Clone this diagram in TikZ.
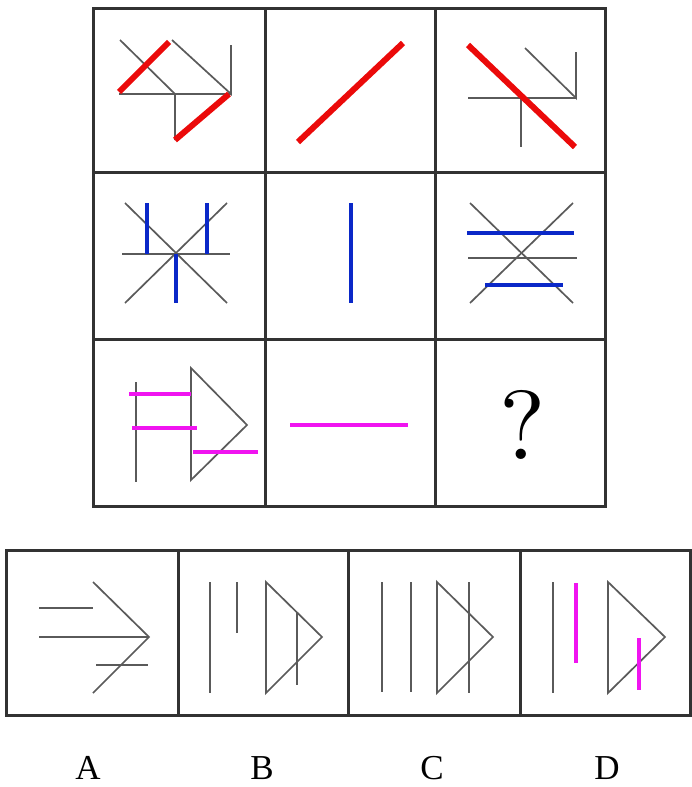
\documentclass[tikz,border=0pt]{standalone}
\usepackage{fontspec}
\setmainfont{Liberation Serif}
\newfontfamily\qfont{lmroman10-regular.otf}

\definecolor{framegray}{RGB}{50,50,50}
\definecolor{linegray}{RGB}{90,90,90}
\definecolor{barred}{RGB}{235,10,10}
\definecolor{barblue}{RGB}{10,40,200}
\definecolor{barpink}{RGB}{240,20,240}

\tikzset{
  frame/.style={draw=framegray, line width=3pt},
  stroke/.style={draw=linegray, line width=1.7pt},
  redbar/.style={draw=barred, line width=6pt},
  bluebar/.style={draw=barblue, line width=4.8pt},
  pinkbar/.style={draw=barpink, line width=4.8pt},
  letter/.style={font=\fontsize{35}{35}\selectfont, inner sep=0pt}
}

\begin{document}
\begin{tikzpicture}[x=1pt, y=-1pt]

    \useasboundingbox (0,0) rectangle (691,787);

    % 1. Khung ba hang ba cot
    \draw[frame] (93,8) rectangle (605,506);
    \foreach \x in {265,435} \draw[frame] (\x,8) -- (\x,506);
    \foreach \y in {172,339} \draw[frame] (93,\y) -- (605,\y);

    % 2. Hang 1 (do)
    \draw[stroke] (120,40) -- (175,94) -- (175,140);
    \draw[stroke] (119,94) -- (231,94);
    \draw[stroke] (172,40) -- (231,94) -- (231,45);
    \draw[redbar] (119,92) -- (169,42);
    \draw[redbar] (175,140) -- (229,94);

    \draw[redbar] (298,142) -- (403,43);

    \draw[stroke] (525,48) -- (576,98) -- (576,52);
    \draw[stroke] (468,98) -- (576,98);
    \draw[stroke] (521,98) -- (521,147);
    \draw[redbar] (468,45) -- (575,147);

    % 3. Hang 2 (xanh)
    \draw[stroke] (125,203) -- (227,303);
    \draw[stroke] (125,303) -- (227,203);
    \draw[stroke] (122,254) -- (230,254);
    \draw[bluebar] (147,203) -- (147,254);
    \draw[bluebar] (207,203) -- (207,254);
    \draw[bluebar] (176,254) -- (176,303);

    \draw[bluebar] (351,203) -- (351,303);

    \draw[stroke] (470,203) -- (573,303);
    \draw[stroke] (470,303) -- (573,203);
    \draw[stroke] (468,258) -- (577,258);
    \draw[bluebar] (467,233) -- (574,233);
    \draw[bluebar] (485,285) -- (563,285);

    % 4. Hang 3 (hong)
    \draw[stroke] (136,382) -- (136,482);
    \draw[stroke] (191,368) -- (247,425) -- (191,480) -- cycle;
    \draw[pinkbar] (129,394) -- (191,394);
    \draw[pinkbar] (132,428) -- (197,428);
    \draw[pinkbar] (193,452) -- (258,452);

    \draw[pinkbar] (290,425) -- (408,425);

    \node[font=\qfont\fontsize{98}{98}\selectfont, inner sep=0pt] (q) at (523,425) {?};

    % 5. Cac phuong an
    \draw[frame] (6,550) rectangle (690,715);
    \foreach \x in {178,348,520} \draw[frame] (\x,550) -- (\x,715);

    % A
    \draw[stroke] (39,608) -- (93,608);
    \draw[stroke] (39,637) -- (149,637);
    \draw[stroke] (96,665) -- (148,665);
    \draw[stroke] (93,582) -- (149,637) -- (93,693);

    % B
    \draw[stroke] (210,582) -- (210,693);
    \draw[stroke] (237,582) -- (237,633);
    \draw[stroke] (266,582) -- (322,637) -- (266,693) -- cycle;
    \draw[stroke] (297,613) -- (297,685);

    % C
    \draw[stroke] (382,582) -- (382,692);
    \draw[stroke] (411,582) -- (411,692);
    \draw[stroke] (437,582) -- (493,637) -- (437,693) -- cycle;
    \draw[stroke] (469,582) -- (469,693);

    % D
    \draw[stroke] (553,582) -- (553,693);
    \draw[stroke] (608,582) -- (665,637) -- (608,693) -- cycle;
    \draw[pinkbar] (576,583) -- (576,663);
    \draw[pinkbar] (639,638) -- (639,690);

    % 6. Nhan
    \node[letter] (labA) at (88,768) {A};
    \node[letter] (labB) at (262,768) {B};
    \node[letter] (labC) at (432,768) {C};
    \node[letter] (labD) at (607,768) {D};

\end{tikzpicture}
\end{document}
